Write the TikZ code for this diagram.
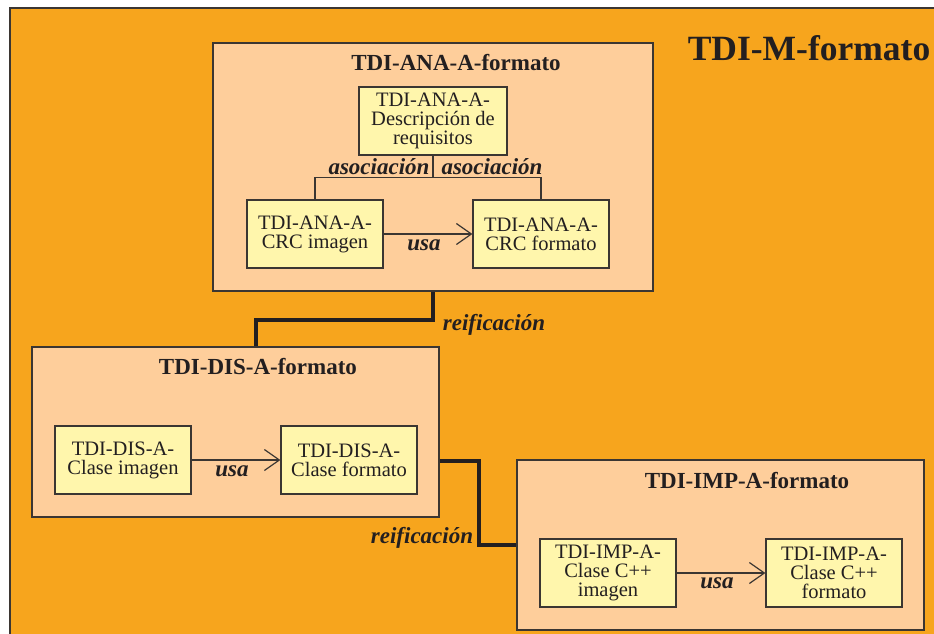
\documentclass[tikz,border=0pt]{standalone}
\usepackage{fontspec}
\setmainfont{Liberation Serif}
\usetikzlibrary{arrows.meta,calc}
\definecolor{bgorange}{HTML}{F7A51D}
\definecolor{peach}{HTML}{FECE9B}
\definecolor{paleyellow}{HTML}{FFF6AC}
\definecolor{edgegray}{HTML}{3B3632}
\definecolor{inkdark}{HTML}{231F20}
\tikzset{
  groupbox/.style={draw=edgegray, line width=1.3pt, fill=peach, rectangle, inner sep=0pt},
  classbox/.style={draw=edgegray, line width=1.2pt, fill=paleyellow, rectangle, inner sep=0pt,
    minimum width=136pt, minimum height=68pt, align=center, text=inkdark,
    font=\fontsize{20.5}{19}\selectfont},
  grouptitle/.style={font=\fontsize{23}{26}\selectfont\bfseries, text=inkdark, inner sep=0pt},
  linklabel/.style={font=\fontsize{23}{26}\selectfont\bfseries\itshape, text=inkdark, inner sep=0pt},
  thinlink/.style={draw=edgegray, line width=1.1pt},
  uselink/.style={draw=edgegray, line width=1.2pt, -{Straight Barb[length=15pt,width=21pt,line width=1.2pt]}},
  reiflink/.style={draw=inkdark, line width=4pt}
}
\begin{document}
\begin{tikzpicture}[x=1pt,y=-1pt]
\useasboundingbox (0,0) rectangle (934,633);
\fill[white] (0,0) rectangle (934,633);
\draw[edgegray, line width=1.5pt, fill=bgorange] (10,8) rectangle (950,650);
\node[font=\fontsize{35.5}{40}\selectfont\bfseries, text=inkdark, inner sep=0pt] (mtitle) at (809,48) {TDI-M-formato};

% ANA group
\node[groupbox, minimum width=440pt, minimum height=248pt] (ana) at (433,167) {};
\node[grouptitle] (anatitle) at (456,63) {TDI-ANA-A-formato};
\node[classbox, minimum width=148pt] (desc) at (433,121) {TDI-ANA-A-\\Descripción de\\requisitos};
\node[classbox] (crci) at (315,234) {TDI-ANA-A-\\CRC imagen};
\node[classbox] (crcf) at (541,234) {TDI-ANA-A-\\CRC formato};
\draw[thinlink] (desc.south) -- ++(0,22) -| (crci.north);
\draw[thinlink] (desc.south) -- ++(0,22) -| (crcf.north);
\node[linklabel] (asoc1) at (379,167) {asociación};
\node[linklabel] (asoc2) at (492,167) {asociación};
\draw[uselink] (crci.east) -- (crcf.west);
\node[linklabel] (usa1) at (424,245) {usa};

% DIS group
\node[groupbox, minimum width=407pt, minimum height=170pt] (dis) at (235.5,432) {};
\node[grouptitle] (distitle) at (258,367) {TDI-DIS-A-formato};
\node[classbox] (clasei) at (123,460) {TDI-DIS-A-\\Clase imagen};
\node[classbox] (clasef) at (349,460) {TDI-DIS-A-\\Clase formato};
\draw[uselink] (clasei.east) -- (clasef.west);
\node[linklabel] (usa2) at (232,471) {usa};

% IMP group
\node[groupbox, minimum width=407pt, minimum height=170pt] (imp) at (720.5,545) {};
\node[grouptitle] (imptitle) at (747,481) {TDI-IMP-A-formato};
\node[classbox] (cppi) at (608,573) {TDI-IMP-A-\\Clase C++\\imagen};
\node[classbox] (cppf) at (834,573) {TDI-IMP-A-\\Clase C++\\formato};
\draw[uselink] (cppi.east) -- (cppf.west);
\node[linklabel] (usa3) at (717,583) {usa};

% reification links
\draw[reiflink] (ana.south) -- ++(0,28) -| ([xshift=20.5pt]dis.north);
\node[linklabel] (reif1) at (494,325) {reificación};
\draw[reiflink] ([yshift=-29pt]dis.east) -- ++(39,0) |- (imp.west);
\node[linklabel] (reif2) at (422,538) {reificación};
\end{tikzpicture}
\end{document}
